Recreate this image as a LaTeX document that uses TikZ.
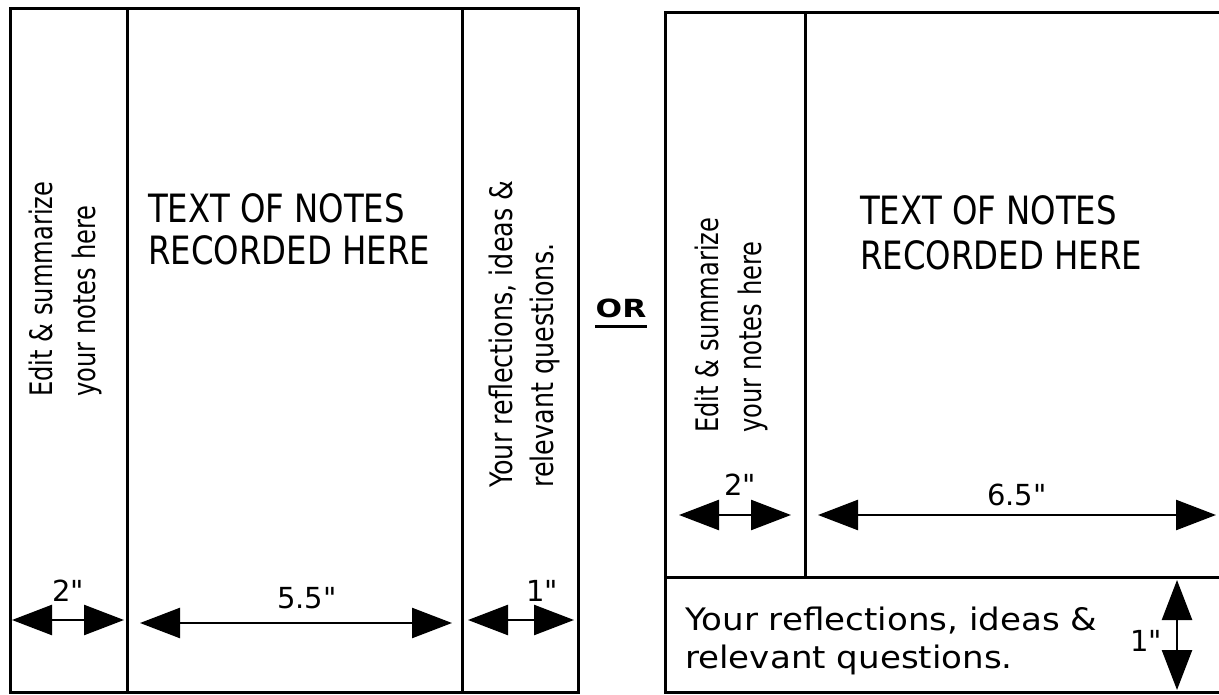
\documentclass[tikz,border=0pt]{standalone}
\usepackage{fontspec}
\setmainfont{DejaVu Sans}
\newfontfamily\plainfont{DejaVu Sans}
\usetikzlibrary{arrows.meta}
\begin{document}
\begin{tikzpicture}[x=1pt,y=-1pt,
  frame/.style={line width=3pt, line cap=rect},
  dimarrow/.style={line width=2.5pt, {Triangle[length=40pt,width=30pt]}-{Triangle[length=40pt,width=30pt]}},
  vtext/.style={inner sep=0pt, rotate=90, anchor=base west, font=\fontsize{31}{42}\selectfont},
  htext/.style={inner sep=0pt, anchor=base west, font=\fontsize{31}{42}\selectfont},
  bigtext/.style={inner sep=0pt, anchor=base west, font=\fontsize{39}{42}\selectfont},
  meas/.style={inner sep=0pt, font=\plainfont\fontsize{29}{30}\selectfont}
]
\useasboundingbox (0,0) rectangle (1219,695);
% ---------- left sheet ----------
\coordinate (LTL) at (10,9);   \coordinate (LBR) at (578,692);
\coordinate (L1t) at (127,9);  \coordinate (L1b) at (127,692);
\coordinate (L2t) at (462,9);  \coordinate (L2b) at (462,692);
\draw[frame] (LTL) rectangle (LBR);
\draw[frame] (L1t) -- (L1b);
\draw[frame] (L2t) -- (L2b);

\node[vtext] (le1) at (52,397) {\scalebox{0.78}[1]{Edit \& summarize}};
\node[vtext] (le2) at (95,397) {\scalebox{0.78}[1]{your notes here}};
\node[bigtext] (lt1) at (148,223) {\scalebox{0.83}[1]{TEXT OF NOTES}};
\node[bigtext] (lt2) at (148,265) {\scalebox{0.83}[1]{RECORDED HERE}};
\node[vtext] (lr1) at (512,488) {\scalebox{0.82}[1]{Your reflections, ideas \&}};
\node[vtext] (lr2) at (553,488) {\scalebox{0.82}[1]{relevant questions.}};

\coordinate (la1) at (12,620);  \coordinate (la2) at (124,620);
\coordinate (lb1) at (140,623); \coordinate (lb2) at (452,623);
\coordinate (lc1) at (468,620); \coordinate (lc2) at (574,620);
\draw[dimarrow] (la1) -- (la2);
\draw[dimarrow] (lb1) -- (lb2);
\draw[dimarrow] (lc1) -- (lc2);
\node[meas] (lm1) at (68,591) {2"};
\node[meas] (lm2) at (307,598) {5.5"};
\node[meas] (lm3) at (542,591) {1"};

% ---------- OR ----------
\node[inner sep=0pt, font=\bfseries\fontsize{25}{25}\selectfont] (or) at (621,308) {\scalebox{1.25}[1]{OR}};
\draw[line width=2.5pt] ([yshift=-9pt]or.south west) -- ([yshift=-9pt]or.south east);

% ---------- right sheet ----------
\coordinate (RTL) at (665,12.5); \coordinate (RTR) at (1225,12.5);
\coordinate (RBL) at (665,692);  \coordinate (RBR) at (1225,692);
\coordinate (RVt) at (805,12.5); \coordinate (RVb) at (805,577);
\coordinate (RHl) at (665,577);  \coordinate (RHr) at (1225,577);
\draw[frame] (RTR) -- (RTL) -- (RBL) -- (RBR);
\draw[frame] (RVt) -- (RVb);
\draw[frame] (RHl) -- (RHr);

\node[vtext] (re1) at (718,433) {\scalebox{0.78}[1]{Edit \& summarize}};
\node[vtext] (re2) at (761,433) {\scalebox{0.78}[1]{your notes here}};
\node[bigtext] (rt1) at (860,225) {\scalebox{0.83}[1]{TEXT OF NOTES}};
\node[bigtext] (rt2) at (860,270) {\scalebox{0.83}[1]{RECORDED HERE}};
\node[htext] (rr1) at (685,630) {\scalebox{1.1}[1]{Your reflections, ideas \&}};
\node[htext] (rr2) at (685,668) {\scalebox{1.1}[1]{relevant questions.}};

\coordinate (ra1) at (679,515);  \coordinate (ra2) at (791,515);
\coordinate (rb1) at (818,515);  \coordinate (rb2) at (1216,515);
\coordinate (rc1) at (1177,580); \coordinate (rc2) at (1177,690);
\draw[dimarrow] (ra1) -- (ra2);
\draw[dimarrow] (rb1) -- (rb2);
\draw[dimarrow] (rc1) -- (rc2);
\node[meas] (rm1) at (740,485) {2"};
\node[meas] (rm2) at (1017,495) {6.5"};
\node[meas] (rm3) at (1146,641) {1"};
\end{tikzpicture}
\end{document}
